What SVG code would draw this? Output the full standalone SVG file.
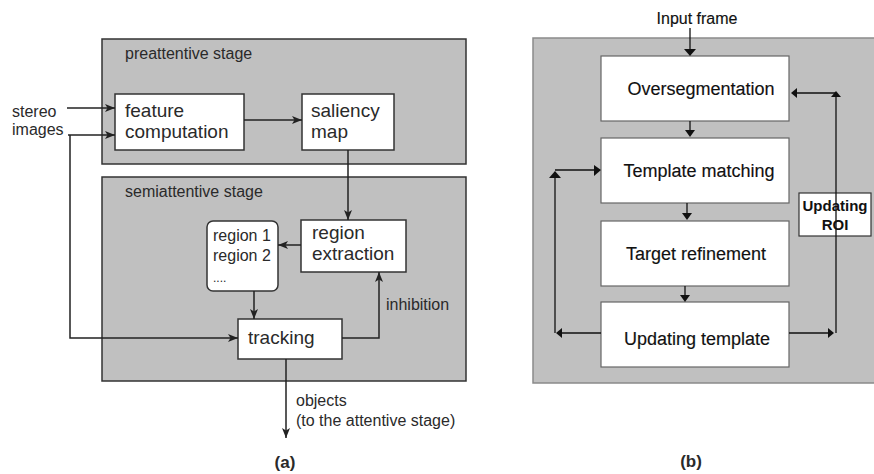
<svg xmlns="http://www.w3.org/2000/svg" width="874" height="474" viewBox="0 0 874 474">
<defs>
<style>
.bg{fill:#c0c0c0;stroke:#333;stroke-width:1.5}
.bgr{fill:#c0c0c0;stroke:#8a8a8a;stroke-width:1.5}
.box{fill:#fff;stroke:#333;stroke-width:1.5}
.boxr{fill:#fff;stroke:#666;stroke-width:1.2}
.t{font-family:"Liberation Sans",Arial,sans-serif;fill:#2a2a2a}
.s16{font-size:16px}
.s19{font-size:19px}
.r{font-family:"Liberation Sans",Arial,sans-serif;fill:#111;stroke:#111;stroke-width:0.15}
.ln{fill:none;stroke:#222;stroke-width:1.5}
.lnr{fill:none;stroke:#111;stroke-width:1.3}
.tri{fill:#111}
</style>
<marker id="ah" viewBox="0 0 10 8" refX="10" refY="4" markerWidth="10" markerHeight="8" markerUnits="userSpaceOnUse" orient="auto">
<path d="M0,0 L10,4 L0,8 L2.5,4 z" fill="#222"/>
</marker>
</defs>

<!-- panel (a) -->
<g id="preattentive">
<rect class="bg" x="102" y="39" width="364" height="125"/>
<text class="t s16" x="125" y="59">preattentive stage</text>
</g>
<g id="semiattentive">
<rect class="bg" x="102" y="177" width="364" height="204"/>
<text class="t s16" x="125" y="197">semiattentive stage</text>
</g>
<g id="stereo">
<text class="t s16" x="12" y="117">stereo</text>
<text class="t s16" x="12" y="135">images</text>
</g>
<g id="feature">
<rect class="box" x="115" y="94" width="129" height="56"/>
<text class="t s19" x="125" y="117">feature</text>
<text class="t s19" x="125" y="138">computation</text>
</g>
<g id="saliency">
<rect class="box" x="302" y="94" width="92" height="56"/>
<text class="t s19" x="311" y="117">saliency</text>
<text class="t s19" x="311" y="138">map</text>
</g>
<g id="region-extraction">
<rect class="box" x="301" y="220" width="105" height="52"/>
<text class="t s19" x="312" y="239">region</text>
<text class="t s19" x="312" y="260">extraction</text>
</g>
<g id="region-list">
<rect class="box" x="207" y="221" width="71" height="70" rx="6"/>
<text class="t s16" x="213" y="241">region 1</text>
<text class="t s16" x="213" y="261">region 2</text>
<text class="t" x="213" y="282" style="font-size:12px">....</text>
</g>
<g id="tracking">
<rect class="box" x="238" y="319" width="104" height="40"/>
<text class="t s19" x="248" y="344">tracking</text>
</g>
<g id="labels-a">
<text class="t s16" x="386" y="310">inhibition</text>
<text class="t s16" x="296" y="406">objects</text>
<text class="t s16" x="296" y="426">(to the attentive stage)</text>
<text class="t" x="285" y="468" text-anchor="middle" style="font-size:17px;font-weight:bold">(a)</text>
</g>

<!-- panel (b) -->
<g id="panel-b">
<rect class="bgr" x="533" y="38" width="345" height="345"/>
<text class="r" x="697" y="24" text-anchor="middle" style="font-size:16px">Input frame</text>
<text class="t" x="691" y="467" text-anchor="middle" style="font-size:17px;font-weight:bold">(b)</text>
</g>
<g id="oversegmentation">
<rect class="boxr" x="601" y="56" width="188" height="65"/>
<text class="r" x="701" y="95" text-anchor="middle" style="font-size:18px">Oversegmentation</text>
</g>
<g id="template-matching">
<rect class="boxr" x="601" y="138" width="188" height="65"/>
<text class="r" x="699" y="177" text-anchor="middle" style="font-size:18px">Template matching</text>
</g>
<g id="target-refinement">
<rect class="boxr" x="601" y="221" width="188" height="65"/>
<text class="r" x="696" y="260" text-anchor="middle" style="font-size:18px">Target refinement</text>
</g>
<g id="updating-template">
<rect class="boxr" x="601" y="302" width="188" height="65"/>
<text class="r" x="697" y="345" text-anchor="middle" style="font-size:18px">Updating template</text>
</g>
<g id="updating-roi">
<rect class="boxr" x="799" y="193" width="72" height="43" style="stroke:#333"/>
<text class="r" x="835" y="211" text-anchor="middle" style="font-size:15px;font-weight:bold;stroke-width:0">Updating</text>
<text class="r" x="835" y="230" text-anchor="middle" style="font-size:15px;font-weight:bold;stroke-width:0">ROI</text>
</g>

<!-- connectors -->
<g id="connectors">
<path class="ln" d="M67,108 H115" marker-end="url(#ah)"/>
<path class="ln" d="M68,135 H115" marker-end="url(#ah)"/>
<path class="ln" d="M70,135 V338 H238" marker-end="url(#ah)"/>
<path class="ln" d="M244,120 H302" marker-end="url(#ah)"/>
<path class="ln" d="M348,150 V220" marker-end="url(#ah)"/>
<path class="ln" d="M301,245 H278" marker-end="url(#ah)"/>
<path class="ln" d="M254,291 V319" marker-end="url(#ah)"/>
<path class="ln" d="M342,338 H379 V272" marker-end="url(#ah)"/>
<path class="ln" d="M286,359 V438" marker-end="url(#ah)"/>

<path class="lnr" d="M690,28 V50"/>
<polygon class="tri" points="684,49 696,49 690,56"/>
<path class="lnr" d="M690,121 V130"/>
<polygon class="tri" points="685,130 695,130 690,137"/>
<path class="lnr" d="M687,203 V213"/>
<polygon class="tri" points="682,213 692,213 687,220"/>
<path class="lnr" d="M685,286 V295"/>
<polygon class="tri" points="680,295 690,295 685,302"/>

<path class="lnr" d="M601,333 H560"/>
<polygon class="tri" points="556,333 562,328 562,338"/>
<path class="lnr" d="M555,333 V176"/>
<polygon class="tri" points="549,178 561,178 555,171"/>
<path class="lnr" d="M555,170 H596"/>
<polygon class="tri" points="601,170 594,165 594,176"/>

<path class="lnr" d="M789,333 H830"/>
<polygon class="tri" points="834,333 828,328 828,338"/>
<path class="lnr" d="M836,333 V96"/>
<polygon class="tri" points="831,97 841,97 836,91"/>
<path class="lnr" d="M836,93 H796"/>
<polygon class="tri" points="791,93 797,88 797,98"/>
</g>
</svg>
